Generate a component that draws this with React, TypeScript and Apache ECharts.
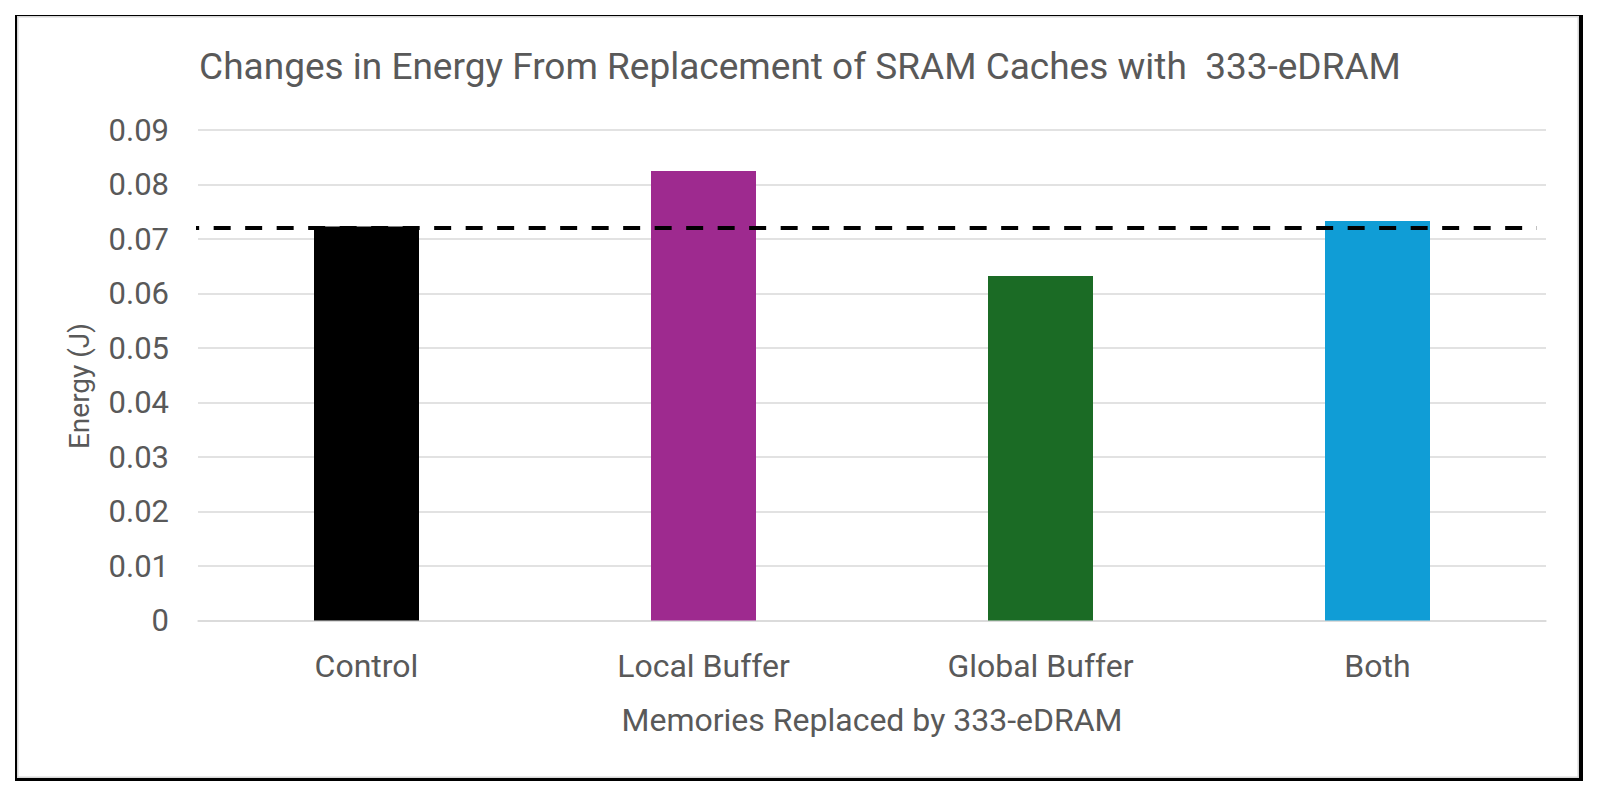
import React, { useEffect, useRef } from "react";
import * as echarts from "echarts";

const TITLE = "Changes in Energy From Replacement of SRAM Caches with  333-eDRAM";
const X_NAME = "Memories Replaced by 333-eDRAM";
const Y_NAME = "Energy (J)";
const categories = ["Control", "Local Buffer", "Global Buffer", "Both"];
const energy = [0.0723, 0.0825, 0.0632, 0.0733];
const barColors = ["#000000", "#9E2A8F", "#1B6B25", "#109DD6"];
const Y_MIN = 0;
const Y_MAX = 0.09;
const Y_STEP = 0.01;
const BASELINE = 0.072;
// horizontal extent of the reference line, in category-slot units (0..4 spans the plot)
const DASH_FROM = -0.047;
const DASH_TO = 3.973;

const FONT = "Roboto";
const TXT = "#595959";

export default function App() {
  const ref = useRef<HTMLDivElement>(null);
  useEffect(() => {
    if (!ref.current) return;
    const chart = echarts.init(ref.current, undefined, { renderer: "svg" });
    chart.setOption({
      animation: false,
      backgroundColor: "#ffffff",
      title: {
        text: TITLE,
        left: "center",
        top: 43,
        textStyle: { fontFamily: FONT, fontSize: 37, fontWeight: "normal", color: TXT },
      },
      grid: { left: 198, right: 54, top: 130, bottom: 178.5 },
      xAxis: [
        {
          type: "category",
          data: categories,
          axisTick: { show: false },
          axisLine: { lineStyle: { color: "#d9d9d9", width: 1.5 } },
          axisLabel: { color: TXT, fontFamily: FONT, fontSize: 32, margin: 29 },
          name: X_NAME,
          nameLocation: "middle",
          nameGap: 83,
          nameTextStyle: { color: TXT, fontFamily: FONT, fontSize: 32 },
        },
        { type: "value", min: 0, max: 4, show: false },
      ],
      yAxis: {
        type: "value",
        min: Y_MIN,
        max: Y_MAX,
        interval: Y_STEP,
        axisLine: { show: false },
        axisTick: { show: false },
        splitLine: { lineStyle: { color: "#d9d9d9", width: 1.5 } },
        axisLabel: {
          color: TXT,
          fontFamily: FONT,
          fontSize: 31,
          margin: 29,
          formatter: (v: number) => (v === 0 ? "0" : v.toFixed(2)),
        },
      },
      graphic: [
        {
          type: "text",
          x: 79,
          y: 386,
          rotation: Math.PI / 2,
          style: {
            text: Y_NAME,
            fill: TXT,
            font: `28px ${FONT}`,
            align: "center",
            verticalAlign: "middle",
          },
        },
      ],
      series: [
        {
          type: "bar",
          xAxisIndex: 0,
          barWidth: 105,
          data: energy.map((v, i) => ({ value: v, itemStyle: { color: barColors[i] } })),
          z: 2,
        },
        {
          type: "line",
          xAxisIndex: 1,
          data: [
            [DASH_FROM, BASELINE],
            [DASH_TO, BASELINE],
          ],
          symbol: "none",
          clip: false,
          lineStyle: { color: "#000000", width: 4, type: [17, 14.5] },
          z: 5,
        },
      ],
    });
    return () => chart.dispose();
  }, []);

  return (
    <div style={{ position: "fixed", left: 0, top: 0, width: 1600, height: 799, background: "#fff" }}>
      <div ref={ref} style={{ position: "absolute", left: 0, top: 0, width: 1600, height: 799 }} />
      <div
        style={{
          position: "absolute",
          left: 15.3,
          top: 15.3,
          width: 1579.3 - 17.3,
          height: 778.7 - 16.7,
          borderLeft: "2px solid #000",
          borderTop: "1.4px solid #000",
          borderRight: "4.7px solid #000",
          borderBottom: "3.6px solid #000",
          boxShadow: "inset 0 0 0 1.5px #d6d6d6",
          pointerEvents: "none",
        }}
      />
    </div>
  );
}
